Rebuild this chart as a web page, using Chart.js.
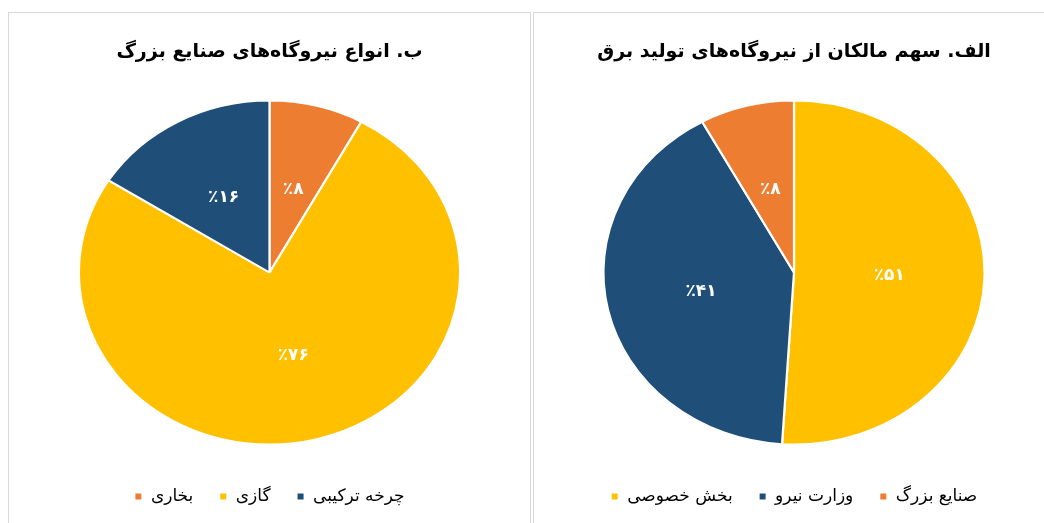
<!DOCTYPE html>
<html>
<head>
<meta charset="utf-8">
<script src="https://cdn.jsdelivr.net/npm/chart.js@4/dist/chart.umd.min.js"></script>
<style>
    html, body { margin: 0; padding: 0; background: #fff; overflow: hidden; }
    body { width: 1044px; height: 523px; position: relative; }
    .panel { position: absolute; top: 12px; height: 530px; border: 1px solid #d9d9d9; box-sizing: border-box; }
    #panel-left { left: 8px; width: 523px; }
    #panel-right { left: 533px; width: 530px; }
    canvas { position: absolute; }
</style>
</head>
<body>
<div class="panel" id="panel-left"></div>
<div class="panel" id="panel-right"></div>
<canvas id="chart-left" width="521" height="520" style="left: 9px; top: 13px; width: 521px; height: 520px;"></canvas>
<canvas id="chart-right" width="520" height="520" style="left: 534px; top: 13px; width: 520px; height: 520px;"></canvas>
<script>
    // chart ب
    const leftTitle = 'ب. انواع نیروگاه‌های صنایع بزرگ';
    const leftLabels = ['بخاری', 'گازی', 'چرخه ترکیبی'];
    const leftValues = [8, 76, 16];
    const leftColors = ['#ED7D31', '#FFC000', '#1F4E79'];

    // chart الف
    const rightTitle = 'الف. سهم مالکان از نیروگاه‌های تولید برق';
    const rightLabels = ['بخش خصوصی', 'وزارت نیرو', 'صنایع بزرگ'];
    const rightValues = [51, 41, 8];
    const rightColors = ['#FFC000', '#1F4E79', '#ED7D31'];

    const FONT = "'DejaVu Sans', sans-serif";
    const STRETCH_X = 1.108; // pies in the picture are a little wider than tall

    function toPersianDigits(n) {
        return String(n).replace(/[0-9]/g, d => '۰۱۲۳۴۵۶۷۸۹'[d]);
    }

    // stretch the pie horizontally and write the percent labels on the slices
    const ellipsePie = {
        id: 'ellipsePie',
        beforeDatasetsDraw(chart) {
            const arc = chart.getDatasetMeta(0).data[0];
            const ctx = chart.ctx;
            ctx.save();
            ctx.translate(arc.x, arc.y);
            ctx.scale(STRETCH_X, 1);
            ctx.translate(-arc.x, -arc.y);
        },
        afterDatasetsDraw(chart) {
            const ctx = chart.ctx;
            ctx.restore();
            const meta = chart.getDatasetMeta(0);
            const values = chart.data.datasets[0].data;
            ctx.save();
            ctx.fillStyle = '#ffffff';
            ctx.font = 'bold 17px ' + FONT;
            ctx.textAlign = 'center';
            ctx.textBaseline = 'middle';
            meta.data.forEach((arc, i) => {
                const p = arc.tooltipPosition();
                const x = arc.x + (p.x - arc.x) * STRETCH_X;
                ctx.fillText('٪' + toPersianDigits(values[i]), x, p.y);
            });
            ctx.restore();
        }
    };

    function makeConfig(title, labels, values, colors) {
        return {
            type: 'pie',
            data: {
                labels: labels,
                datasets: [
                    {
                        data: values,
                        backgroundColor: colors,
                        borderColor: '#ffffff',
                        borderWidth: 2,
                        hoverOffset: 0
                    }
                ]
            },
            options: {
                responsive: false,
                animation: false,
                radius: 172,
                layout: {
                    padding: {top: 0, bottom: 18, left: 0, right: 0}
                },
                plugins: {
                    title: {
                        display: true,
                        text: title,
                        color: '#000000',
                        font: {family: FONT, size: 19, weight: 'bold'},
                        padding: {top: 27.6, bottom: 19.6}
                    },
                    legend: {
                        display: true,
                        position: 'bottom',
                        labels: {
                            color: '#000000',
                            font: {family: FONT, size: 17},
                            boxWidth: 8,
                            boxHeight: 8,
                            padding: 26
                        }
                    },
                    tooltip: {enabled: false}
                }
            },
            plugins: [ellipsePie]
        };
    }

    var ctxLeft = document.getElementById('chart-left').getContext('2d');
    window.leftChart = new Chart(ctxLeft, makeConfig(leftTitle, leftLabels, leftValues, leftColors));

    var ctxRight = document.getElementById('chart-right').getContext('2d');
    window.rightChart = new Chart(ctxRight, makeConfig(rightTitle, rightLabels, rightValues, rightColors));
</script>
</body>
</html>
